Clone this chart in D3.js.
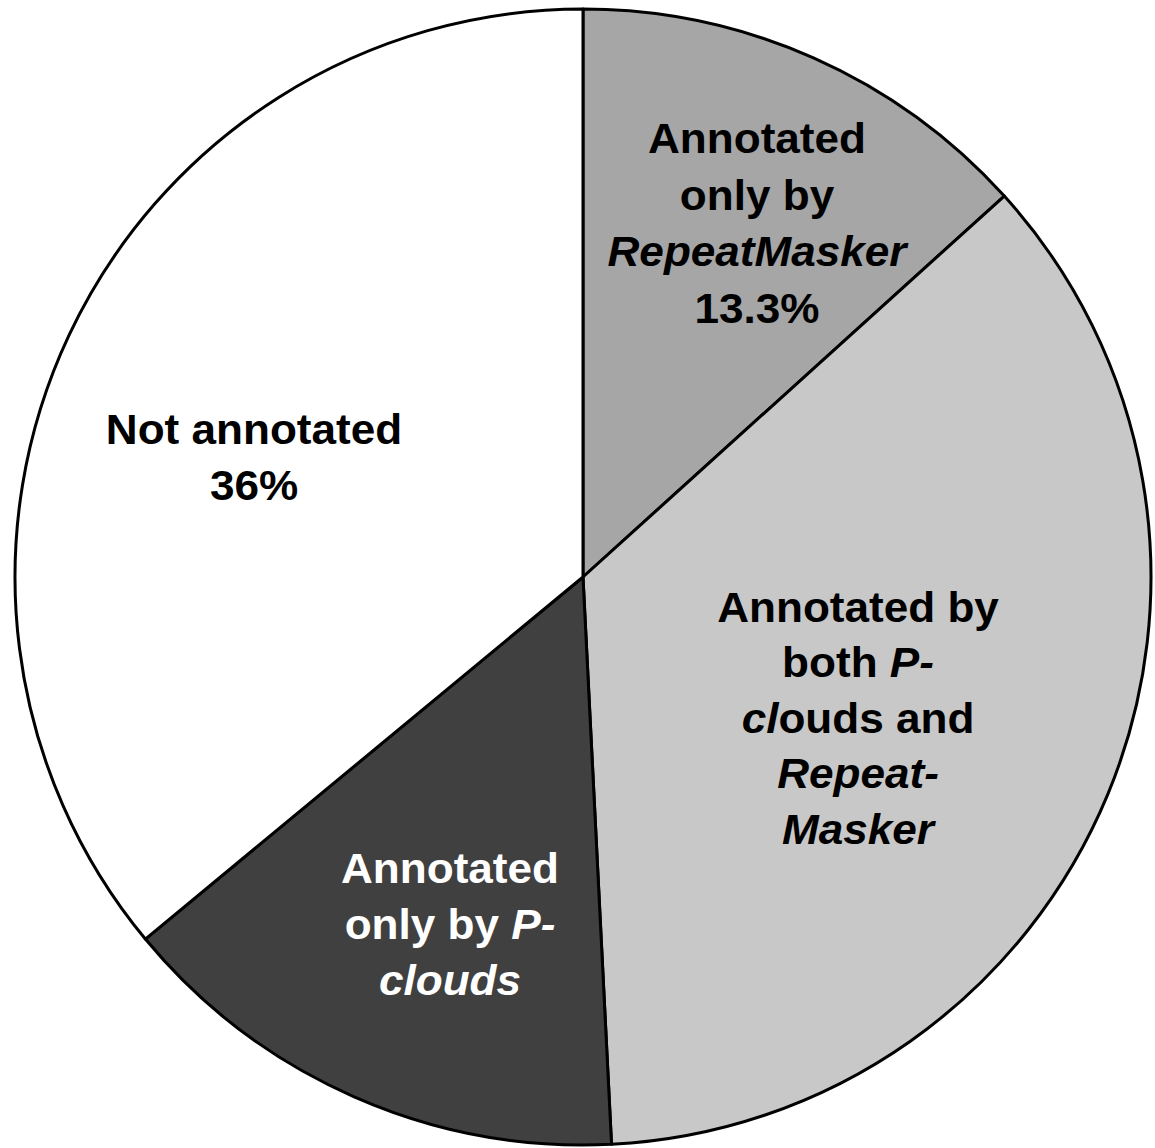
<!DOCTYPE html>
<html>
<head>
<meta charset="utf-8">
<script src="https://cdn.jsdelivr.net/npm/d3@7"></script>
<style>
  html, body { margin: 0; padding: 0; background: #ffffff; }
  svg { display: block; }
</style>
</head>
<body>
<svg id="chart" width="1155" height="1148"></svg>
<script>
// Genome annotation coverage (percent), clockwise from 12 o'clock
const categories = [
  "Annotated only by RepeatMasker",
  "Annotated by both P-clouds and RepeatMasker",
  "Annotated only by P-clouds",
  "Not annotated"
];
const values = [13.3, 35.9, 14.8, 36];
const fills = ["#a6a6a6", "#c8c8c8", "#404040", "#ffffff"];

// Label lines; each line is a list of [text, italic] runs
const labelLines = [
  [[["Annotated", false]], [["only by", false]], [["RepeatMasker", true]], [["13.3%", false]]],
  [[["Annotated by", false]], [["both ", false], ["P-", true]], [["cl", true], ["ouds and", false]], [["Repeat-", true]], [["Masker", true]]],
  [[["Annotated", false]], [["only by ", false], ["P-", true]], [["clouds", true]]],
  [[["Not annotated", false]], [["36%", false]]]
];
const labelColors = ["#000000", "#000000", "#ffffff", "#000000"];

// Layout
const cx = 583, cy = 577, radius = 568;
const labelAnchors = [[757, 153], [858, 622], [450, 883], [254, 444]];
const lineHeights = [56.7, 55.5, 56, 56];

const svg = d3.select("#chart");
const g = svg.append("g").attr("transform", `translate(${cx},${cy})`);

const pie = d3.pie().sort(null).value(d => d.value);
const arc = d3.arc().innerRadius(0).outerRadius(radius);
const data = categories.map((c, i) => ({ name: c, value: values[i], fill: fills[i] }));

g.selectAll("path.slice")
  .data(pie(data))
  .join("path")
  .attr("class", "slice")
  .attr("d", arc)
  .attr("fill", d => d.data.fill)
  .attr("stroke", "#000")
  .attr("stroke-width", 3)
  .attr("stroke-linejoin", "round");

// Slice labels
labelLines.forEach((lines, i) => {
  const [ax, ay] = labelAnchors[i];
  const lg = svg.append("g").attr("transform", `translate(${ax},${ay}) scale(1.05,1)`);
  lines.forEach((runs, j) => {
    const t = lg.append("text")
      .attr("x", 0)
      .attr("y", j * lineHeights[i])
      .attr("text-anchor", "middle")
      .attr("font-family", "'Liberation Sans', Arial, Helvetica, sans-serif")
      .attr("font-weight", "bold")
      .attr("font-size", 42)
      .attr("fill", labelColors[i]);
    runs.forEach(([txt, it]) => {
      t.append("tspan")
        .attr("font-style", it ? "italic" : "normal")
        .text(txt);
    });
  });
});
</script>
</body>
</html>
